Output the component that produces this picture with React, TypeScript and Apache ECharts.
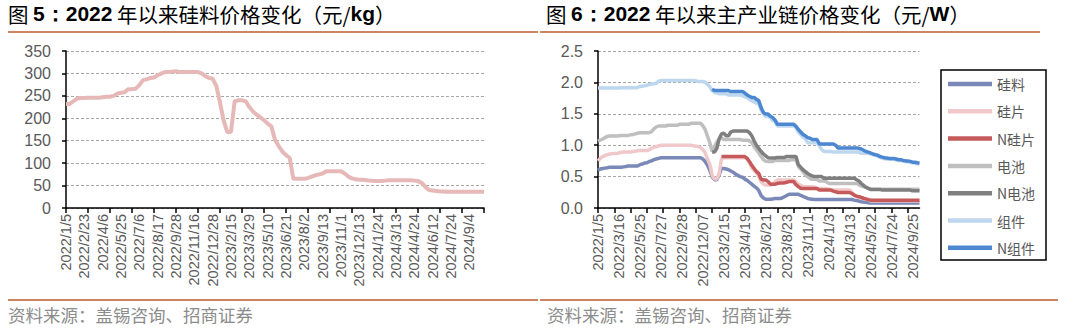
import React, { useEffect, useRef } from "react";
import * as echarts from "echarts";

// ---------- Left chart: polysilicon price (元/kg) ----------
const polyLabelDates = [
  "2022/1/5", "2022/2/23", "2022/4/6", "2022/5/25", "2022/7/6", "2022/8/17",
  "2022/9/28", "2022/11/16", "2022/12/28", "2023/2/15", "2023/3/29", "2023/5/10",
  "2023/6/21", "2023/8/2", "2023/9/13", "2023/11/1", "2023/12/13", "2024/1/24",
  "2024/3/13", "2024/4/24", "2024/6/12", "2024/7/24", "2024/9/4",
];
const polyPrice = [
  232, 232, 238, 244, 245, 245, 246, 246, 246, 246,
  247, 248, 248, 250, 255, 257, 258, 265, 265, 266,
  274, 285, 287, 290, 291, 296, 300, 303, 303, 304,
  305, 303, 303, 303, 303, 303, 303, 300, 294, 290,
  288, 272, 235, 195, 169, 170, 238, 240, 240, 238,
  225, 215, 208, 202, 196, 188, 182, 152, 138, 126,
  118, 112, 65, 65, 65, 65, 67, 70, 73, 75,
  77, 82, 82, 82, 82, 82, 77, 70, 66, 64,
  63, 63, 62, 61, 60, 60, 60, 61, 62, 62,
  62, 62, 62, 62, 62, 61, 60, 56, 47, 40,
  39, 38, 37, 37, 36, 36, 36, 36, 36, 36,
  36, 36, 36, 36, 36,
];

// ---------- Right chart: main chain prices (元/W) ----------
const chainLabelDates = [
  "2022/1/5", "2022/3/16", "2022/5/25", "2022/7/27", "2022/9/28", "2022/12/07",
  "2023/2/15", "2023/4/19", "2023/6/21", "2023/8/23", "2023/11/1", "2024/1/3",
  "2024/3/13", "2024/5/22", "2024/7/24", "2024/9/25",
];
const seriesNames = ["硅料", "硅片", "N硅片", "电池", "N电池", "组件", "N组件"];
const seriesColors = ["#7A89B8", "#F0C8CA", "#C65A5B", "#BFBFBF", "#7F7F7F", "#BDD7EE", "#4C87D2"];

const siliconW = [
  0.60, 0.62, 0.63, 0.635, 0.64, 0.65, 0.65, 0.65, 0.65, 0.65,
  0.65, 0.655, 0.66, 0.67, 0.67, 0.67, 0.67, 0.67, 0.69, 0.70,
  0.715, 0.72, 0.74, 0.75, 0.77, 0.78, 0.79, 0.80, 0.80, 0.80,
  0.80, 0.80, 0.80, 0.80, 0.80, 0.80, 0.80, 0.80, 0.80, 0.80,
  0.80, 0.80, 0.80, 0.80, 0.80, 0.78, 0.74, 0.68, 0.60, 0.50,
  0.45, 0.45, 0.53, 0.63, 0.63, 0.62, 0.61, 0.59, 0.57, 0.54,
  0.52, 0.50, 0.49, 0.46, 0.44, 0.41, 0.38, 0.35, 0.32, 0.28,
  0.20, 0.16, 0.14, 0.14, 0.14, 0.145, 0.15, 0.15, 0.15, 0.16,
  0.18, 0.20, 0.22, 0.22, 0.22, 0.22, 0.22, 0.20, 0.185, 0.17,
  0.15, 0.145, 0.14, 0.135, 0.135, 0.135, 0.135, 0.135, 0.135, 0.135,
  0.135, 0.135, 0.135, 0.135, 0.135, 0.135, 0.135, 0.135, 0.135, 0.135,
  0.125, 0.12, 0.11, 0.10, 0.095, 0.09, 0.085, 0.08, 0.08, 0.08,
  0.08, 0.08, 0.08, 0.08, 0.08, 0.08, 0.08, 0.08, 0.08, 0.08,
  0.08, 0.08, 0.08, 0.08, 0.08, 0.08, 0.08, 0.08, 0.08,
];
const wafer = [
  0.75, 0.79, 0.82, 0.835, 0.85, 0.86, 0.866, 0.866, 0.866, 0.875,
  0.885, 0.89, 0.89, 0.89, 0.89, 0.90, 0.905, 0.91, 0.915, 0.915,
  0.915, 0.915, 0.93, 0.95, 0.97, 0.975, 0.99, 1.0, 1.0, 1.0,
  1.0, 1.0, 1.0, 1.0, 1.0, 1.0, 1.0, 1.0, 1.0, 1.0,
  1.0, 0.99, 0.985, 0.98, 0.96, 0.93, 0.88, 0.78, 0.70, 0.52,
  0.46, 0.46, 0.55, 0.78, 0.80, 0.80, 0.80, 0.80, 0.80, 0.80,
  0.80, 0.80, 0.80, 0.80, 0.78, 0.72, 0.64, 0.60, 0.56, 0.50,
  0.42, 0.38, 0.366, 0.366, 0.366, 0.38, 0.42, 0.446, 0.446, 0.446,
  0.446, 0.446, 0.446, 0.446, 0.446, 0.42, 0.38, 0.36, 0.34, 0.34,
  0.34, 0.34, 0.34, 0.33, 0.31, 0.31, 0.31, 0.31, 0.31, 0.30,
  0.285, 0.285, 0.285, 0.285, 0.285, 0.285, 0.285, 0.285, 0.285, 0.25,
  0.20, 0.18, 0.175, 0.17, 0.15, 0.14, 0.134, 0.11, 0.11, 0.11,
  0.11, 0.11, 0.11, 0.11, 0.11, 0.11, 0.11, 0.11, 0.11, 0.11,
  0.11, 0.11, 0.11, 0.11, 0.11, 0.11, 0.11, 0.11, 0.11,
];
const nWafer = [
  null, null, null, null, null, null, null, null, null, null,
  null, null, null, null, null, null, null, null, null, null,
  null, null, null, null, null, null, null, null, null, null,
  null, null, null, null, null, null, null, null, null, null,
  null, null, null, null, null, null, null, null, null, null,
  null, null, null, 0.82, 0.82, 0.82, 0.82, 0.82, 0.82, 0.82,
  0.82, 0.82, 0.82, 0.82, 0.79, 0.74, 0.68, 0.63, 0.58, 0.55,
  0.46, 0.446, 0.446, 0.42, 0.38, 0.38, 0.38, 0.39, 0.40, 0.40,
  0.40, 0.41, 0.42, 0.42, 0.42, 0.37, 0.34, 0.315, 0.31, 0.31,
  0.31, 0.31, 0.31, 0.31, 0.31, 0.285, 0.285, 0.285, 0.285, 0.285,
  0.285, 0.27, 0.258, 0.247, 0.247, 0.247, 0.247, 0.247, 0.247, 0.23,
  0.205, 0.19, 0.18, 0.167, 0.155, 0.145, 0.134, 0.124, 0.124, 0.124,
  0.124, 0.124, 0.124, 0.124, 0.124, 0.124, 0.124, 0.124, 0.124, 0.124,
  0.124, 0.124, 0.124, 0.124, 0.124, 0.124, 0.124, 0.124, 0.124,
];
const cell = [
  1.065, 1.08, 1.10, 1.12, 1.14, 1.145, 1.145, 1.145, 1.145, 1.15,
  1.156, 1.156, 1.156, 1.156, 1.165, 1.17, 1.18, 1.19, 1.20, 1.20,
  1.20, 1.20, 1.20, 1.215, 1.26, 1.29, 1.306, 1.306, 1.306, 1.306,
  1.317, 1.317, 1.317, 1.317, 1.317, 1.333, 1.333, 1.333, 1.333, 1.333,
  1.35, 1.35, 1.35, 1.35, 1.35, 1.31, 1.25, 1.14, 1.04, 0.90,
  0.98, 1.05, 1.10, 1.118, 1.09, 1.09, 1.09, 1.09, 1.09, 1.09,
  1.09, 1.09, 1.08, 1.08, 1.08, 1.07, 1.04, 0.98, 0.93, 0.88,
  0.82, 0.77, 0.745, 0.742, 0.742, 0.742, 0.758, 0.758, 0.758, 0.758,
  0.758, 0.758, 0.758, 0.77, 0.77, 0.77, 0.66, 0.62, 0.58, 0.53,
  0.50, 0.47, 0.457, 0.457, 0.457, 0.43, 0.43, 0.43, 0.42, 0.39,
  0.39, 0.39, 0.39, 0.39, 0.39, 0.39, 0.39, 0.39, 0.39, 0.39,
  0.39, 0.39, 0.37, 0.35, 0.34, 0.33, 0.312, 0.30, 0.30, 0.30,
  0.30, 0.30, 0.30, 0.30, 0.30, 0.30, 0.30, 0.30, 0.30, 0.30,
  0.30, 0.30, 0.30, 0.30, 0.30, 0.30, 0.30, 0.30, 0.30,
];
const nCell = [
  null, null, null, null, null, null, null, null, null, null,
  null, null, null, null, null, null, null, null, null, null,
  null, null, null, null, null, null, null, null, null, null,
  null, null, null, null, null, null, null, null, null, null,
  null, null, null, null, null, null, null, null, null, 0.89,
  0.89, 0.95, 1.10, 1.18, 1.19, 1.15, 1.15, 1.21, 1.226, 1.226,
  1.226, 1.226, 1.226, 1.226, 1.226, 1.20, 1.15, 1.07, 1.00, 0.95,
  0.90, 0.86, 0.83, 0.80, 0.796, 0.796, 0.796, 0.806, 0.806, 0.806,
  0.806, 0.82, 0.82, 0.82, 0.82, 0.82, 0.69, 0.65, 0.61, 0.58,
  0.55, 0.527, 0.51, 0.50, 0.50, 0.50, 0.50, 0.473, 0.473, 0.473,
  0.473, 0.473, 0.473, 0.473, 0.473, 0.473, 0.473, 0.473, 0.473, 0.473,
  0.473, 0.45, 0.43, 0.39, 0.36, 0.33, 0.312, 0.296, 0.296, 0.296,
  0.296, 0.296, 0.285, 0.285, 0.285, 0.285, 0.285, 0.285, 0.285, 0.285,
  0.285, 0.285, 0.285, 0.285, 0.285, 0.275, 0.275, 0.275, 0.275,
];
const module = [
  1.91, 1.91, 1.91, 1.91, 1.91, 1.91, 1.91, 1.91, 1.91, 1.91,
  1.915, 1.915, 1.915, 1.915, 1.915, 1.915, 1.915, 1.92, 1.935, 1.94,
  1.945, 1.955, 1.965, 1.975, 1.98, 1.985, 2.02, 2.03, 2.03, 2.03,
  2.03, 2.03, 2.03, 2.03, 2.03, 2.03, 2.03, 2.03, 2.03, 2.03,
  2.03, 2.03, 2.025, 2.016, 2.016, 2.016, 2.00, 1.97, 1.93, 1.87,
  1.84, 1.83, 1.82, 1.82, 1.82, 1.82, 1.80, 1.80, 1.80, 1.80,
  1.80, 1.80, 1.79, 1.77, 1.76, 1.73, 1.71, 1.69, 1.67, 1.66,
  1.56, 1.50, 1.457, 1.457, 1.44, 1.39, 1.39, 1.306, 1.306, 1.306,
  1.306, 1.306, 1.306, 1.306, 1.306, 1.28, 1.21, 1.17, 1.13, 1.10,
  1.04, 1.04, 1.04, 1.04, 1.04, 0.99, 0.93, 0.90, 0.90, 0.90,
  0.90, 0.89, 0.89, 0.89, 0.89, 0.89, 0.89, 0.89, 0.89, 0.89,
  0.89, 0.89, 0.89, 0.87, 0.87, 0.87, 0.87, 0.86, 0.85, 0.84,
  0.825, 0.81, 0.795, 0.785, 0.78, 0.775, 0.775, 0.775, 0.765, 0.755,
  0.755, 0.745, 0.74, 0.735, 0.73, 0.72, 0.715, 0.705, 0.70,
];
const nModule = [
  null, null, null, null, null, null, null, null, null, null,
  null, null, null, null, null, null, null, null, null, null,
  null, null, null, null, null, null, null, null, null, null,
  null, null, null, null, null, null, null, null, null, null,
  null, null, null, null, null, null, null, null, null, 1.89,
  1.87, 1.87, 1.87, 1.87, 1.87, 1.87, 1.87, 1.855, 1.855, 1.855,
  1.855, 1.855, 1.855, 1.83, 1.80, 1.78, 1.76, 1.76, 1.73, 1.71,
  1.60, 1.52, 1.495, 1.495, 1.46, 1.44, 1.40, 1.333, 1.333, 1.333,
  1.333, 1.333, 1.333, 1.333, 1.333, 1.30, 1.25, 1.21, 1.17, 1.15,
  1.12, 1.11, 1.09, 1.09, 1.09, 1.02, 1.02, 1.02, 1.02, 1.02,
  1.02, 1.02, 1.00, 0.957, 0.957, 0.957, 0.957, 0.957, 0.957, 0.957,
  0.957, 0.957, 0.95, 0.94, 0.92, 0.90, 0.89, 0.876, 0.86, 0.85,
  0.84, 0.82, 0.81, 0.80, 0.796, 0.79, 0.79, 0.79, 0.78, 0.77,
  0.77, 0.758, 0.75, 0.75, 0.742, 0.73, 0.73, 0.72, 0.715,
];
const chainSeries = [siliconW, wafer, nWafer, cell, nCell, module, nModule];

const polyTicks = [0, 50, 100, 150, 200, 250, 300, 350];
const chainTicks = [0, 0.5, 1.0, 1.5, 2.0, 2.5];

function buildDates(labels: string[], step: number, total: number): string[] {
  const out: string[] = [];
  for (let i = 0; i < total; i++) {
    const k = Math.min(Math.floor(i / step), labels.length - 1);
    const j = i - k * step;
    if (j === 0) {
      out.push(labels[k]);
      continue;
    }
    const [y, m, d] = labels[k].split("/").map(Number);
    const dt = new Date(Date.UTC(y, m - 1, d + 7 * j));
    out.push(`${dt.getUTCFullYear()}/${dt.getUTCMonth() + 1}/${dt.getUTCDate()}`);
  }
  return out;
}

const polyDates = buildDates(polyLabelDates, 5, polyPrice.length);
const chainDates = buildDates(chainLabelDates, 9, siliconW.length);

const AXIS_COLOR = "#000";
const LABEL_COLOR = "#595959";
const GRID_COLOR = "#A6A6A6";
const TITLE_COLOR = "#C0714E";
const RULE_COLOR = "#CC8463";
const LATIN = "'Liberation Sans', Arial, sans-serif";
const CJK = "'Noto Sans CJK SC', sans-serif";

function makeXAxis(gridIndex: number, data: string[], labelEvery: number, tickEvery: number) {
  return {
    type: "category",
    gridIndex,
    data,
    boundaryGap: false,
    axisLine: { show: true, lineStyle: { color: AXIS_COLOR, width: 1.5 } },
    axisTick: { show: true, interval: tickEvery - 1, length: 5, lineStyle: { color: AXIS_COLOR, width: 1.5 } },
    axisLabel: {
      interval: labelEvery - 1,
      rotate: 90,
      fontSize: 14.5,
      lineHeight: 15,
      color: LABEL_COLOR,
      fontFamily: LATIN,
      margin: 6,
      hideOverlap: false,
    },
    splitLine: { show: false },
  };
}

function makeYAxis(gridIndex: number, ticks: number[], digits: number) {
  return {
    type: "value",
    gridIndex,
    min: ticks[0],
    max: ticks[ticks.length - 1],
    interval: ticks[1] - ticks[0],
    axisLine: { show: true, lineStyle: { color: AXIS_COLOR, width: 1.5 } },
    axisTick: { show: true, length: 4, lineStyle: { color: AXIS_COLOR, width: 1.5 } },
    axisLabel: {
      fontSize: 16,
      color: LABEL_COLOR,
      fontFamily: LATIN,
      margin: 15,
      formatter: (v: number) => v.toFixed(digits),
    },
    splitLine: { show: true, lineStyle: { color: GRID_COLOR, type: [3, 2], width: 1 } },
  };
}

export default function App() {
  const ref = useRef<HTMLDivElement>(null);

  useEffect(() => {
    if (!ref.current) return;
    const chart = echarts.init(ref.current, null, { renderer: "svg" });

    const chainLines = seriesNames.map((name, idx) => ({
      name,
      type: "line",
      xAxisIndex: 1,
      yAxisIndex: 1,
      data: chainSeries[idx],
      symbol: "none",
      showSymbol: false,
      connectNulls: false,
      lineStyle: { color: seriesColors[idx], width: 3.5 },
      itemStyle: { color: seriesColors[idx] },
      z: 2 + idx,
    }));

    const titleRich = {
      c: { fontFamily: CJK, fontSize: 20.5, color: TITLE_COLOR, fontWeight: "normal" },
      b: { fontFamily: LATIN, fontSize: 21, color: TITLE_COLOR, fontWeight: "bold" },
    };

    chart.setOption({
      animation: false,
      backgroundColor: "#ffffff",
      grid: [
        { left: 66, top: 51, width: 418, height: 157, containLabel: false },
        { left: 598, top: 51, width: 321.5, height: 157, containLabel: false },
      ],
      xAxis: [makeXAxis(0, polyDates, 5, 6), makeXAxis(1, chainDates, 9, 7)],
      yAxis: [makeYAxis(0, polyTicks, 0), makeYAxis(1, chainTicks, 1)],
      legend: {
        data: seriesNames,
        orient: "vertical",
        left: 948,
        top: 76,
        icon: "rect",
        itemWidth: 44,
        itemHeight: 4.5,
        itemGap: 11.3,
        padding: 0,
        textStyle: { fontFamily: CJK, fontSize: 14, color: LABEL_COLOR, lineHeight: 16 },
      },
      series: [
        {
          name: "硅料价格",
          type: "line",
          xAxisIndex: 0,
          yAxisIndex: 0,
          data: polyPrice,
          symbol: "none",
          showSymbol: false,
          lineStyle: { color: "#E6B9B8", width: 4 },
          itemStyle: { color: "#E6B9B8" },
        },
        ...chainLines,
      ],
      graphic: [
        {
          type: "text",
          left: 8,
          top: 3,
          style: {
            text: "{c|图 }{b|5：2022}{c| 年以来硅料价格变化（元/}{b|kg}{c|）}",
            rich: titleRich,
          },
        },
        {
          type: "text",
          left: 546,
          top: 3,
          style: {
            text: "{c|图 }{b|6：2022}{c| 年以来主产业链价格变化（元/}{b|W}{c|）}",
            rich: titleRich,
          },
        },
        { type: "line", shape: { x1: 8, y1: 32, x2: 538, y2: 32 }, style: { stroke: RULE_COLOR, lineWidth: 2 } },
        { type: "line", shape: { x1: 540, y1: 32, x2: 1040, y2: 32 }, style: { stroke: RULE_COLOR, lineWidth: 2 } },
        { type: "line", shape: { x1: 8, y1: 300, x2: 538, y2: 300 }, style: { stroke: RULE_COLOR, lineWidth: 2 } },
        { type: "line", shape: { x1: 540, y1: 300, x2: 1058, y2: 300 }, style: { stroke: RULE_COLOR, lineWidth: 2 } },
        {
          type: "text",
          left: 8,
          top: 306,
          style: { text: "资料来源：盖锡咨询、招商证券", font: `17.5px ${CJK}`, fill: "#8C8C8C" },
        },
        {
          type: "text",
          left: 547,
          top: 306,
          style: { text: "资料来源：盖锡咨询、招商证券", font: `17.5px ${CJK}`, fill: "#8C8C8C" },
        },
        {
          type: "rect",
          shape: { x: 941, y: 70, width: 105, height: 190 },
          style: { fill: "none", stroke: "#000", lineWidth: 1.5 },
          z: 10,
        },
      ],
    });

    return () => chart.dispose();
  }, []);

  return (
    <div
      ref={ref}
      style={{ position: "fixed", left: 0, top: 0, width: 1080, height: 335, background: "#fff" }}
    />
  );
}
